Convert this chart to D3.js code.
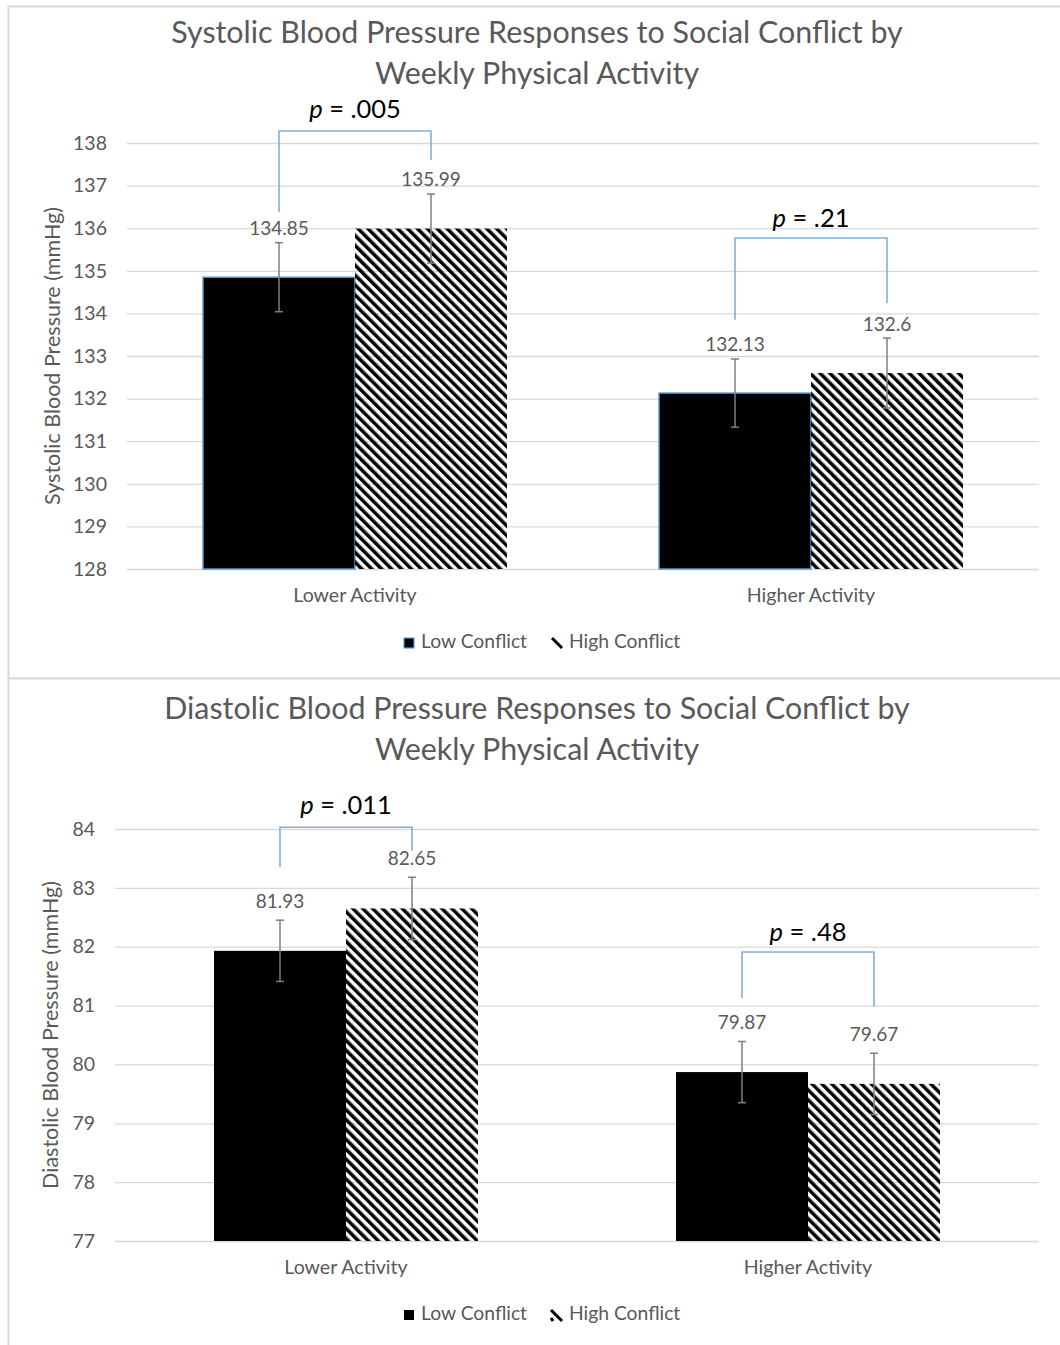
<!DOCTYPE html>
<html>
<head>
<meta charset="utf-8">
<script src="https://cdn.jsdelivr.net/npm/d3@7"></script>
<style>
  html, body { margin: 0; padding: 0; background: #fff; }
  svg { display: block; font-family: Lato, "Open Sans", sans-serif; }
</style>
</head>
<body>
<svg id="chart" width="1060" height="1345"></svg>
<script>
// ---- data ----
const categories = ["Lower Activity", "Higher Activity"];
const series = ["Low Conflict", "High Conflict"];

const systolicLow = [134.85, 132.13];
const systolicHigh = [135.99, 132.6];
const systolicErrLow = [0.81, 0.80];
const systolicErrHigh = [0.81, 0.82];
const systolicP = [".005", ".21"];
const systolicTicks = [128, 129, 130, 131, 132, 133, 134, 135, 136, 137, 138];

const diastolicLow = [81.93, 79.87];
const diastolicHigh = [82.65, 79.67];
const diastolicErrLow = [0.52, 0.52];
const diastolicErrHigh = [0.53, 0.52];
const diastolicP = [".011", ".48"];
const diastolicTicks = [77, 78, 79, 80, 81, 82, 83, 84];

// ---- drawing ----
const svg = d3.select("#chart");
const TEXT = "#595959", GRID = "#d9d9d9", BRACKET = "#7fb0de", ERR = "#7f7f7f";

// wide downward-diagonal hatch for the High Conflict bars
const defs = svg.append("defs");
defs.append("pattern")
  .attr("id", "hatch")
  .attr("patternUnits", "userSpaceOnUse")
  .attr("width", 7).attr("height", 10)
  .attr("patternTransform", "rotate(-45)")
  .append("rect")
  .attr("x", 0).attr("y", 0).attr("width", 3.5).attr("height", 10)
  .attr("fill", "#000");

function drawPanel(cfg) {
  const g = svg.append("g");

  // panel frame
  g.append("rect")
    .attr("x", 8.5).attr("y", cfg.frameTop + 0.5)
    .attr("width", 1070).attr("height", cfg.frameHeight)
    .attr("fill", "#fff").attr("stroke", GRID).attr("stroke-width", 2);

  // title
  g.append("text")
    .attr("x", 537).attr("y", cfg.titleY)
    .attr("text-anchor", "middle").attr("fill", TEXT)
    .style("font-size", "30.4px")
    .selectAll("tspan").data(cfg.title).join("tspan")
    .attr("x", 537).attr("dy", (d, i) => i ? 41 : 0)
    .text(d => d);

  const y = d3.scaleLinear().domain(cfg.domain).range([cfg.bottom, cfg.top]);
  const x0 = d3.scaleBand().domain(categories).range([cfg.left, cfg.right]);
  const x1 = d3.scaleBand().domain(series).range([0, x0.bandwidth()])
    .paddingInner(0).paddingOuter(cfg.outerPad);

  // gridlines + tick labels
  const axis = g.append("g")
    .attr("transform", `translate(${cfg.left},0)`)
    .call(d3.axisLeft(y).tickValues(cfg.ticks).tickFormat(d3.format("d"))
      .tickSize(-(cfg.right - cfg.left)).tickPadding(cfg.tickPad));
  axis.select(".domain").remove();
  axis.selectAll(".tick line").attr("stroke", GRID).attr("stroke-width", 1.3);
  axis.selectAll(".tick text").attr("fill", TEXT)
    .style("font-size", "19.5px").style("font-family", "Lato, sans-serif");

  // y axis title
  g.append("text")
    .attr("transform", `translate(${cfg.yTitleX},${(cfg.top + cfg.bottom) / 2}) rotate(-90)`)
    .attr("text-anchor", "middle").attr("dominant-baseline", "middle")
    .attr("fill", TEXT).style("font-size", "21.5px")
    .text(cfg.yTitle);

  const rows = categories.map((c, i) => ({
    cat: c,
    vals: [
      { s: series[0], v: cfg.low[i], e: cfg.errLow[i] },
      { s: series[1], v: cfg.high[i], e: cfg.errHigh[i] }
    ]
  }));

  const groups = g.selectAll(".cat").data(rows).join("g")
    .attr("transform", d => `translate(${x0(d.cat)},0)`);

  // bars
  groups.selectAll("rect").data(d => d.vals).join("rect")
    .attr("x", d => x1(d.s))
    .attr("y", d => y(d.v))
    .attr("width", x1.bandwidth())
    .attr("height", d => y(cfg.domain[0]) - y(d.v))
    .attr("fill", d => d.s === series[0] ? "#000" : "url(#hatch)")
    .attr("stroke", d => (d.s === series[0] && cfg.blueEdge) ? "#5b9bd5" : "none")
    .attr("stroke-width", 1.5);

  // error bars
  const eb = groups.selectAll(".err").data(d => d.vals).join("g")
    .attr("transform", d => `translate(${x1(d.s) + x1.bandwidth() / 2},0)`)
    .attr("stroke", ERR).attr("stroke-width", 1.5);
  eb.append("line").attr("y1", d => y(d.v + d.e)).attr("y2", d => y(d.v - d.e));
  eb.append("line").attr("x1", -4).attr("x2", 4)
    .attr("y1", d => y(d.v + d.e)).attr("y2", d => y(d.v + d.e));
  eb.append("line").attr("x1", -4).attr("x2", 4)
    .attr("y1", d => y(d.v - d.e)).attr("y2", d => y(d.v - d.e));

  // value labels
  groups.selectAll(".lbl").data(d => d.vals).join("text")
    .attr("x", d => x1(d.s) + x1.bandwidth() / 2)
    .attr("y", d => y(d.v) - cfg.labelOffset)
    .attr("text-anchor", "middle").attr("dominant-baseline", "middle")
    .attr("fill", TEXT).style("font-size", "19px")
    .text(d => d.v);

  // significance brackets
  categories.forEach((c, i) => {
    const b = cfg.brackets[i];
    const xa = x0(c) + x1(series[0]) + x1.bandwidth() / 2;
    const xb = x0(c) + x1(series[1]) + x1.bandwidth() / 2;
    g.append("path")
      .attr("d", `M${xa},${y(b.legA)}V${y(b.top)}H${xb}V${y(b.legB)}`)
      .attr("fill", "none").attr("stroke", BRACKET).attr("stroke-width", 1.6);
    const t = g.append("text")
      .attr("x", (xa + xb) / 2).attr("y", y(b.text))
      .attr("text-anchor", "middle").attr("dominant-baseline", "middle")
      .attr("fill", "#000").style("font-size", "25.5px");
    t.append("tspan").style("font-style", "italic").text("p");
    t.append("tspan").text(" = " + cfg.p[i]);
  });

  // category labels
  g.selectAll(".catlbl").data(categories).join("text")
    .attr("x", d => x0(d) + x0.bandwidth() / 2)
    .attr("y", cfg.catY)
    .attr("text-anchor", "middle").attr("dominant-baseline", "middle")
    .attr("fill", TEXT).style("font-size", "19.6px")
    .text(d => d);

  // legend
  const lg = g.append("g").attr("transform", `translate(0,${cfg.legendY})`);
  lg.append("rect").attr("x", 404).attr("y", -5).attr("width", 10).attr("height", 10)
    .attr("fill", "#000")
    .attr("stroke", cfg.blueEdge ? "#5b9bd5" : "none").attr("stroke-width", 1.2);
  lg.append("text").attr("x", 421).attr("y", 0).attr("dominant-baseline", "middle")
    .attr("fill", TEXT).style("font-size", "19.3px").text(series[0]);
  if (cfg.blueEdge) {
    lg.append("line").attr("x1", 552).attr("y1", -5).attr("x2", 562).attr("y2", 5)
      .attr("stroke", "#000").attr("stroke-width", 3);
  } else {
    lg.append("path").attr("d", "M551,-5L562,6M551,3L553,6")
      .attr("stroke", "#000").attr("stroke-width", 3);
  }
  lg.append("text").attr("x", 569).attr("y", 0).attr("dominant-baseline", "middle")
    .attr("fill", TEXT).style("font-size", "19.3px").text(series[1]);
}

drawPanel({
  frameTop: 6, frameHeight: 672,
  title: ["Systolic Blood Pressure Responses to Social Conflict by", "Weekly Physical Activity"],
  titleY: 43,
  domain: [128, 138], ticks: systolicTicks,
  top: 143, bottom: 569, left: 127, right: 1039, tickPad: 20, outerPad: 0.5,
  yTitle: "Systolic Blood Pressure (mmHg)", yTitleX: 55,
  low: systolicLow, high: systolicHigh, errLow: systolicErrLow, errHigh: systolicErrHigh,
  p: systolicP, blueEdge: true, labelOffset: 47,
  brackets: [
    { top: 138.28, legA: 136.38, legB: 137.6, text: 138.73 },
    { top: 135.77, legA: 133.85, legB: 134.24, text: 136.17 }
  ],
  catY: 597, legendY: 643
});

drawPanel({
  frameTop: 678, frameHeight: 680,
  title: ["Diastolic Blood Pressure Responses to Social Conflict by", "Weekly Physical Activity"],
  titleY: 719,
  domain: [77, 84], ticks: diastolicTicks,
  top: 829, bottom: 1241, left: 115, right: 1039, tickPad: 20, outerPad: 0.75,
  yTitle: "Diastolic Blood Pressure (mmHg)", yTitleX: 53,
  low: diastolicLow, high: diastolicHigh, errLow: diastolicErrLow, errHigh: diastolicErrHigh,
  p: diastolicP, blueEdge: false, labelOffset: 48,
  brackets: [
    { top: 84.03, legA: 83.35, legB: 83.63, text: 84.36 },
    { top: 81.91, legA: 81.13, legB: 80.99, text: 82.2 }
  ],
  catY: 1269, legendY: 1315
});
</script>
</body>
</html>
